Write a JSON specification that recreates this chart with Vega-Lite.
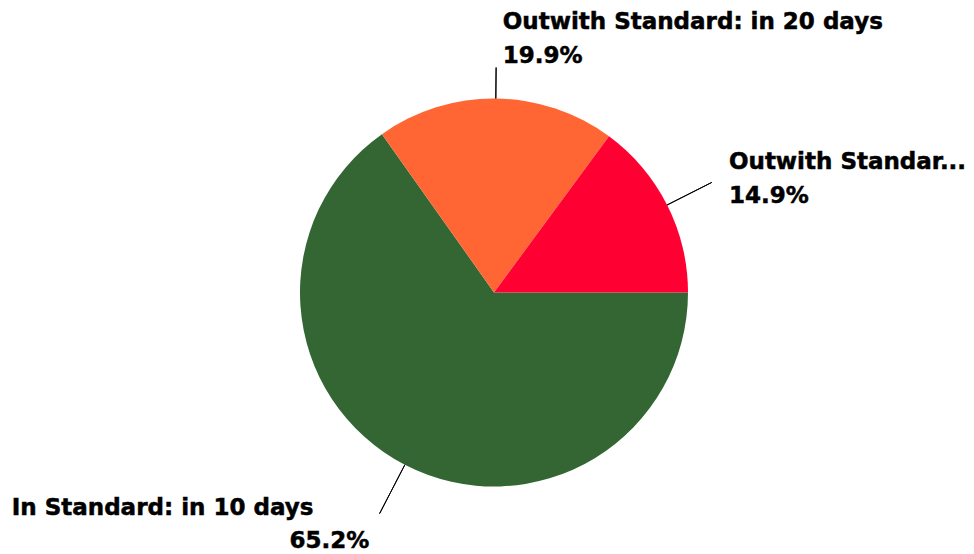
{
  "$schema": "https://vega.github.io/schema/vega-lite/v6.json",
  "width": 960,
  "height": 521,
  "autosize": {"type": "none"},
  "padding": {"left": 14, "top": 32, "right": 0, "bottom": 0},
  "background": "white",
  "config": {
    "view": {"stroke": null},
    "text": {"font": "DejaVu Sans", "fontWeight": "bold", "fontSize": 23, "color": "#000000", "stroke": "#000000", "strokeWidth": 0.5}
  },
  "data": {
    "values": [
      {"category": "In Standard: in 10 days", "value": 0.652},
      {"category": "Outwith Standard: in 20 days", "value": 0.199},
      {"category": "Outwith Standard: over 20 days", "value": 0.149}
    ]
  },
  "transform": [
    {"stack": "value", "groupby": [], "sort": [{"field": "category", "order": "ascending"}], "as": ["s0", "s1"]},
    {"calculate": "(datum.s0 + datum.s1) / 2", "as": "mid"}
  ],
  "layer": [
    {
      "mark": {"type": "arc", "radius": 194},
      "encoding": {
        "theta": {"field": "s0", "type": "quantitative", "stack": null, "scale": {"domain": [0, 1], "range": [1.5707963, 7.8539816]}},
        "theta2": {"field": "s1"},
        "color": {
          "field": "category", "type": "nominal",
          "scale": {"domain": ["In Standard: in 10 days", "Outwith Standard: in 20 days", "Outwith Standard: over 20 days"], "range": ["#336633", "#FF6633", "#FF0033"]},
          "legend": null
        }
      }
    },
    {
      "transform": [{"filter": "datum.category === 'Outwith Standard: in 20 days'"}],
      "mark": {"type": "arc", "filled": false, "stroke": "#000000", "strokeWidth": 1, "radius": 225, "radius2": 194},
      "encoding": {"theta": {"field": "mid", "type": "quantitative", "stack": null}, "theta2": {"field": "mid"}}
    },
    {
      "transform": [{"filter": "datum.category === 'Outwith Standard: over 20 days'"}],
      "mark": {"type": "arc", "filled": false, "stroke": "#000000", "strokeWidth": 1, "radius": 244, "radius2": 194},
      "encoding": {"theta": {"field": "mid", "type": "quantitative", "stack": null}, "theta2": {"field": "mid"}}
    },
    {
      "transform": [{"filter": "datum.category === 'In Standard: in 10 days'"}],
      "mark": {"type": "arc", "filled": false, "stroke": "#000000", "strokeWidth": 1, "radius": 249, "radius2": 194},
      "encoding": {"theta": {"field": "mid", "type": "quantitative", "stack": null}, "theta2": {"field": "mid"}}
    },
    {
      "transform": [{"filter": "datum.category === 'Outwith Standard: in 20 days'"}],
      "mark": {"type": "text", "radius": 225, "align": "left", "baseline": "alphabetic", "dx": 6.6, "dy": -38.2},
      "encoding": {"theta": {"field": "mid", "type": "quantitative", "stack": null}, "text": {"field": "category"}}
    },
    {
      "transform": [{"filter": "datum.category === 'Outwith Standard: in 20 days'"}],
      "mark": {"type": "text", "radius": 225, "align": "left", "baseline": "alphabetic", "dx": 6.6, "dy": -4.8},
      "encoding": {"theta": {"field": "mid", "type": "quantitative", "stack": null}, "text": {"field": "value", "format": ".1%"}}
    },
    {
      "transform": [{"filter": "datum.category === 'Outwith Standard: over 20 days'"}],
      "mark": {"type": "text", "radius": 244, "align": "left", "baseline": "alphabetic", "dx": 17.2, "dy": -13.1, "limit": 248, "ellipsis": "..."},
      "encoding": {"theta": {"field": "mid", "type": "quantitative", "stack": null}, "text": {"field": "category"}}
    },
    {
      "transform": [{"filter": "datum.category === 'Outwith Standard: over 20 days'"}],
      "mark": {"type": "text", "radius": 244, "align": "left", "baseline": "alphabetic", "dx": 17.2, "dy": 20.9},
      "encoding": {"theta": {"field": "mid", "type": "quantitative", "stack": null}, "text": {"field": "value", "format": ".1%"}}
    },
    {
      "transform": [{"filter": "datum.category === 'In Standard: in 10 days'"}],
      "mark": {"type": "text", "radius": 249, "align": "left", "baseline": "alphabetic", "dx": -367.8, "dy": 1.7},
      "encoding": {"theta": {"field": "mid", "type": "quantitative", "stack": null}, "text": {"field": "category"}}
    },
    {
      "transform": [{"filter": "datum.category === 'In Standard: in 10 days'"}],
      "mark": {"type": "text", "radius": 249, "align": "right", "baseline": "alphabetic", "dx": -10.2, "dy": 34.1},
      "encoding": {"theta": {"field": "mid", "type": "quantitative", "stack": null}, "text": {"field": "value", "format": ".1%"}}
    }
  ]
}
